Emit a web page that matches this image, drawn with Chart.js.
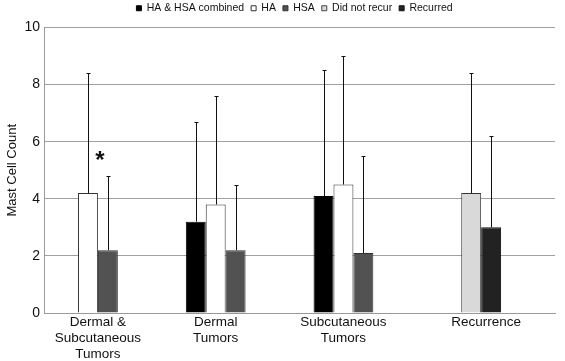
<!DOCTYPE html>
<html>
<head>
<meta charset="utf-8">
<script src="https://cdn.jsdelivr.net/npm/chart.js@4"></script>
<style>
  html, body { margin: 0; padding: 0; background: #fff; }
  #wrap { width: 565px; height: 361px; position: relative; }
</style>
</head>
<body>
<div id="wrap"><canvas id="chart"></canvas></div>
<script>
// categories (multi-line labels)
var categories = [
    ['Dermal &', 'Subcutaneous', 'Tumors'],
    ['Dermal', 'Tumors'],
    ['Subcutaneous', 'Tumors'],
    ['Recurrence']
];

// mean mast cell counts
var combined    = [null, 3.2, 4.1, null];
var ha          = [4.2, 3.8, 4.5, null];
var hsa         = [2.2, 2.2, 2.1, null];
var didNotRecur = [null, null, null, 4.2];
var recurred    = [null, null, null, 3.0];

// top of the error bars
var combinedErr    = [null, 6.7, 8.5, null];
var haErr          = [8.4, 7.6, 9.0, null];
var hsaErr         = [4.8, 4.5, 5.5, null];
var didNotRecurErr = [null, null, null, 8.4];
var recurredErr    = [null, null, null, 6.2];

var yTicks = [0, 2, 4, 6, 8, 10];

var FONT = 'Arial, "Liberation Sans", sans-serif';
var colors = {
    combined: '#000000', ha: '#ffffff', hsa: '#525252',
    didNotRecur: '#d9d9d9', recurred: '#222222'
};

// the original plots the recurrence bars in the 2nd and 3rd slot,
// so they share the HA / HSA columns
function merge(a, b) {
    return a.map(function (v, i) { return v != null ? v : b[i]; });
}
function pick(a, ca, cb) {
    return a.map(function (v) { return v != null ? ca : cb; });
}

var extras = {
    id: 'extras',
    afterLayout: function (chart) {
        // nudge the legend to where the original sits
        var lg = chart.legend;
        lg.left += 17; lg.right += 17;
        lg.top -= 4; lg.bottom -= 4;
    },
    afterDatasetsDraw: function (chart) {
        var ctx = chart.ctx;
        var yScale = chart.scales.y;
        ctx.save();
        ctx.strokeStyle = '#111';
        ctx.lineWidth = 1;
        chart.data.datasets.forEach(function (ds, di) {
            var meta = chart.getDatasetMeta(di);
            meta.data.forEach(function (bar, i) {
                if (ds.data[i] == null || ds.errTop[i] == null) return;
                var x = Math.round(bar.x) + 0.5;
                var yTop = Math.round(yScale.getPixelForValue(ds.errTop[i])) + 0.5;
                ctx.beginPath();
                ctx.moveTo(x, bar.y);
                ctx.lineTo(x, yTop);
                ctx.moveTo(x - 2, yTop);
                ctx.lineTo(x + 2, yTop);
                ctx.stroke();
            });
        });
        ctx.restore();
    },
    afterDraw: function (chart) {
        var ctx = chart.ctx;
        var xScale = chart.scales.x;
        var yScale = chart.scales.y;
        ctx.save();
        ctx.fillStyle = '#111';
        ctx.font = '13.5px ' + FONT;
        ctx.textAlign = 'center';
        ctx.textBaseline = 'top';
        categories.forEach(function (lines, i) {
            var xs = [];
            chart.data.datasets.forEach(function (ds, di) {
                if (ds.data[i] != null) xs.push(chart.getDatasetMeta(di).data[i].x);
            });
            var cx = xs.length ? (Math.min.apply(null, xs) + Math.max.apply(null, xs)) / 2 : xScale.getPixelForValue(i);
            if (i === categories.length - 1) cx += 5;
            lines.forEach(function (t, li) {
                ctx.fillText(t, cx, chart.chartArea.bottom + 3 + li * 16);
            });
        });
        // significance marker
        var ha0 = chart.getDatasetMeta(1).data[0];
        ctx.font = 'bold 24px ' + FONT;
        ctx.textBaseline = 'middle';
        ctx.fillText('*', ha0.x + 12, yScale.getPixelForValue(5.3));
        ctx.restore();
    }
};

new Chart(document.getElementById('chart'), {
    type: 'bar',
    data: {
        labels: categories,
        datasets: [
            { label: 'HA & HSA combined', data: combined, errTop: combinedErr,
              backgroundColor: colors.combined, borderColor: '#000000', borderWidth: 1 },
            { label: 'HA', data: merge(ha, didNotRecur), errTop: merge(haErr, didNotRecurErr),
              backgroundColor: pick(ha, colors.ha, colors.didNotRecur),
              borderColor: '#333333', borderWidth: 1 },
            { label: 'HSA', data: merge(hsa, recurred), errTop: merge(hsaErr, recurredErr),
              backgroundColor: pick(hsa, colors.hsa, colors.recurred),
              borderColor: pick(hsa, '#333333', '#111111'), borderWidth: 1 },
            { label: 'Did not recur', data: [null, null, null, null], errTop: [],
              backgroundColor: colors.didNotRecur, borderColor: '#444444', borderWidth: 1 },
            { label: 'Recurred', data: [null, null, null, null], errTop: [],
              backgroundColor: colors.recurred, borderColor: '#111111', borderWidth: 1 }
        ]
    },
    options: {
        responsive: true,
        maintainAspectRatio: false,
        animation: false,
        categoryPercentage: 0.78,
        barPercentage: 1.0,
        layout: { padding: { left: 0, right: 10, top: 0, bottom: 48 } },
        plugins: {
            legend: {
                position: 'top',
                labels: {
                    boxWidth: 5, boxHeight: 5, padding: 7,
                    color: '#111',
                    font: { size: 10.5, family: FONT },
                    generateLabels: function (chart) {
                        return chart.data.datasets.map(function (ds, i) {
                            var fill = Array.isArray(ds.backgroundColor) ? ds.backgroundColor[0] : ds.backgroundColor;
                            var stroke = Array.isArray(ds.borderColor) ? ds.borderColor[0] : ds.borderColor;
                            return { text: ds.label, fillStyle: fill, strokeStyle: stroke,
                                     lineWidth: 1, fontColor: '#111', datasetIndex: i };
                        });
                    }
                }
            },
            tooltip: { enabled: false }
        },
        scales: {
            x: {
                ticks: { display: false },
                grid: { display: false, drawTicks: false },
                border: { display: true, color: '#999999' }
            },
            y: {
                min: 0, max: 10,
                afterBuildTicks: function (scale) {
                    scale.ticks = yTicks.map(function (v) { return { value: v }; });
                },
                afterFit: function (scale) { scale.width = 44; },
                ticks: { color: '#111', padding: 4, font: { size: 14, family: FONT } },
                grid: { color: '#a0a0a0', drawTicks: false },
                border: { display: true, color: '#999999' },
                title: { display: true, text: 'Mast Cell Count', color: '#111',
                         padding: { top: 5, bottom: 0 }, font: { size: 13, family: FONT } }
            }
        }
    },
    plugins: [extras]
});
</script>
</body>
</html>
